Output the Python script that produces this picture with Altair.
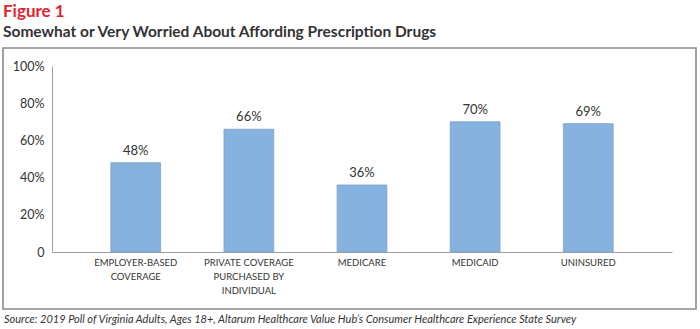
import altair as alt
import pandas as pd

categories = ["Employer-Based|Coverage", "Private Coverage|Purchased by|Individual",
              "Medicare", "Medicaid", "Uninsured"]
values = [48, 66, 36, 70, 69]
value_labels = ["48%", "66%", "36%", "70%", "69%"]
y_ticks = [0, 20, 40, 60, 80, 100]
source_text = ["Source: 2019 Poll of Virginia Adults, Ages 18+, Altarum Healthcare Value Hub\u2019s Consumer Healthcare Experience State Survey"]

df = pd.DataFrame({"cat": categories, "val": values, "lab": value_labels})
src = pd.DataFrame({"t": source_text})

FONT = "Lato"

x_enc = alt.X("cat:N", sort=categories,
              scale=alt.Scale(paddingInner=0.56, paddingOuter=0.52),
              axis=alt.Axis(title=None, labelAngle=0, ticks=False, domainColor="#a0a0a0",
                            labelExpr="split(upper(datum.value), '|')",
                            labelFont=FONT, labelFontSize=9.5, labelColor="#333333",
                            labelLineHeight=14, labelPadding=5, labelBaseline="top"))
y_enc = alt.Y("val:Q", scale=alt.Scale(domain=[0, 100]),
              axis=alt.Axis(title=None, values=y_ticks, ticks=False, grid=False,
                            domainColor="#a0a0a0", labelOverlap=False, labelFlush=False,
                            labelExpr="datum.value == 0 ? '0' : datum.value + '%'",
                            labelFont=FONT, labelFontSize=12.5, labelColor="#333333",
                            labelPadding=8))

bars = alt.Chart(df).mark_bar(color="#85b2de", stroke="#7f9fc2", strokeWidth=0.8).encode(
    x=x_enc, y=y_enc)

texts = alt.Chart(df).mark_text(font=FONT, fontSize=13, color="#333333", dy=-12).encode(
    x=x_enc, y=y_enc, text="lab:N")

frame = alt.Chart(src).mark_rect(fill=None, stroke="#8a8a8a", strokeWidth=1.6).encode(
    x=alt.value(-49), x2=alt.value(644), y=alt.value(-18), y2=alt.value(243))

source = alt.Chart(src).mark_text(font=FONT, fontSize=11, fontStyle="italic", color="#333333",
                                  align="left", baseline="middle").encode(
    x=alt.value(-48), y=alt.value(254), text="t:N")

chart = alt.layer(frame, bars, texts, source).properties(
    width=620, height=186,
    background="white",
    autosize=alt.AutoSizeParams(type="none"),
    padding={"left": 52, "top": 66, "right": 28, "bottom": 77},
    title=alt.TitleParams(text="Figure 1",
                          subtitle="Somewhat or Very Worried About Affording Prescription Drugs",
                          anchor="start", frame="group", dx=-49, offset=6,
                          font=FONT, fontSize=17, fontWeight="bold", color="#e3242b",
                          subtitleFont=FONT, subtitleFontSize=15.5, subtitleFontWeight="bold",
                          subtitleColor="#333333", subtitlePadding=4)
).configure_view(stroke=None)

chart.save("out.html", embed_options={"renderer": "svg", "actions": False})
